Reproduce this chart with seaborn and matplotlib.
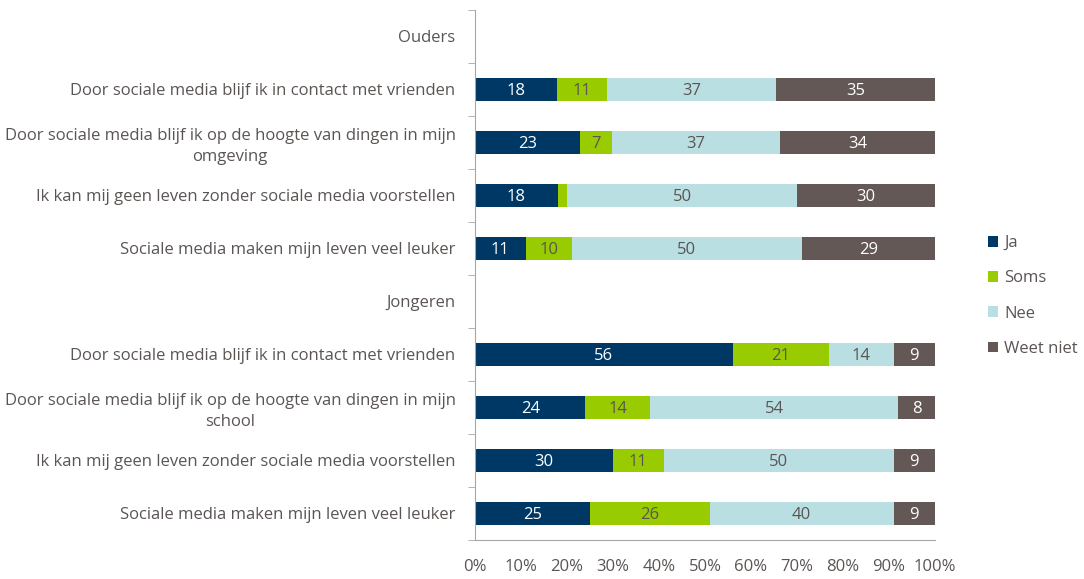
import numpy as np
import pandas as pd
import matplotlib
matplotlib.use("Agg")
import matplotlib.pyplot as plt
import seaborn as sns
from matplotlib.patches import Patch

# rows top to bottom; header rows carry no bars
row_labels = [
    "Ouders",
    "Door sociale media blijf ik in contact met vrienden",
    "Door sociale media blijf ik op de hoogte van dingen in mijn\nomgeving",
    "Ik kan mij geen leven zonder sociale media voorstellen",
    "Sociale media maken mijn leven veel leuker",
    "Jongeren",
    "Door sociale media blijf ik in contact met vrienden",
    "Door sociale media blijf ik op de hoogte van dingen in mijn\nschool",
    "Ik kan mij geen leven zonder sociale media voorstellen",
    "Sociale media maken mijn leven veel leuker",
]
row_ids = ["h_o", "o1", "o2", "o3", "o4", "h_j", "j1", "j2", "j3", "j4"]
bar_ids = ["o1", "o2", "o3", "o4", "j1", "j2", "j3", "j4"]

series = ["Ja", "Soms", "Nee", "Weet niet"]
ja = [18, 23, 18, 11, 56, 24, 30, 25]
soms = [11, 7, 2, 10, 21, 14, 11, 26]
nee = [37, 37, 50, 50, 14, 54, 50, 40]
weet_niet = [35, 34, 30, 29, 9, 8, 9, 9]
show_label = [[True] * 8, [True, True, False, True, True, True, True, True], [True] * 8, [True] * 8]

colors = ["#003865", "#99CC00", "#BADFE3", "#635855"]
label_colors = ["white", "#5a5553", "#5a5553", "white"]
text_color = "#5a5553"

df = pd.DataFrame({"row": bar_ids, "Ja": ja, "Soms": soms, "Nee": nee, "Weet niet": weet_niet})
totals = df[series].sum(axis=1)
shares = df[series].div(totals, axis=0) * 100
cum = shares.cumsum(axis=1)
cum["row"] = df["row"]

sns.set_style("white")
plt.rcParams["font.family"] = ["Open Sans", "DejaVu Sans"]

fig = plt.figure(figsize=(10.84, 5.79), dpi=100)
ax = fig.add_axes([475 / 1084, 1 - 540 / 579, 460 / 1084, 530 / 579])

# draw cumulative bars from the widest down so they stack
for i in reversed(range(len(series))):
    sns.barplot(data=cum, x=series[i], y="row", order=row_ids, color=colors[i],
                orient="h", width=0.42, saturation=1, ax=ax, edgecolor="none")

# value labels
for i, s in enumerate(series):
    for k, rid in enumerate(bar_ids):
        if not show_label[i][k]:
            continue
        ypos = row_ids.index(rid)
        left = cum[s].iloc[k] - shares[s].iloc[k]
        xc = left + shares[s].iloc[k] / 2
        ax.text(xc, ypos + 0.02, str(df[s].iloc[k]), ha="center", va="center",
                fontsize=12, color=label_colors[i])

ax.set_xlim(0, 100)
ax.set_ylim(len(row_ids) - 0.5, -0.5)
ax.set_xticks(np.arange(0, 101, 10))
ax.set_xticklabels([f"{v}%" for v in range(0, 101, 10)], fontsize=12, color=text_color)
ax.set_yticks(range(len(row_ids)))
ax.set_yticklabels(row_labels, fontsize=12, color=text_color, multialignment="center",
                   linespacing=1.35)
ax.tick_params(axis="y", length=0, pad=14)
ax.tick_params(axis="x", length=0, pad=14)
ax.set_xlabel("")
ax.set_ylabel("")

# axis lines with Excel-style tick marks
for sp in ["top", "right"]:
    ax.spines[sp].set_visible(False)
ax.spines["left"].set_color("#a6a6a6")
ax.spines["bottom"].set_color("#a6a6a6")
ax.set_yticks(np.arange(-0.5, len(row_ids), 1), minor=True)
ax.set_xticks(np.arange(0, 101, 10), minor=True)
ax.tick_params(axis="y", which="minor", direction="out", length=5, color="#a6a6a6", left=True)
ax.tick_params(axis="x", which="minor", direction="out", length=5, color="#a6a6a6", bottom=True)

handles = [Patch(facecolor=c, edgecolor="none") for c in colors]
fig.legend(handles, series, loc="center left", bbox_to_anchor=(981 / 1084, 1 - 296 / 579),
           frameon=False, fontsize=12, labelcolor=text_color, handlelength=0.6,
           handleheight=0.6, labelspacing=1.15, handletextpad=0.4, borderaxespad=0)

fig.savefig("out.png", dpi=100)
